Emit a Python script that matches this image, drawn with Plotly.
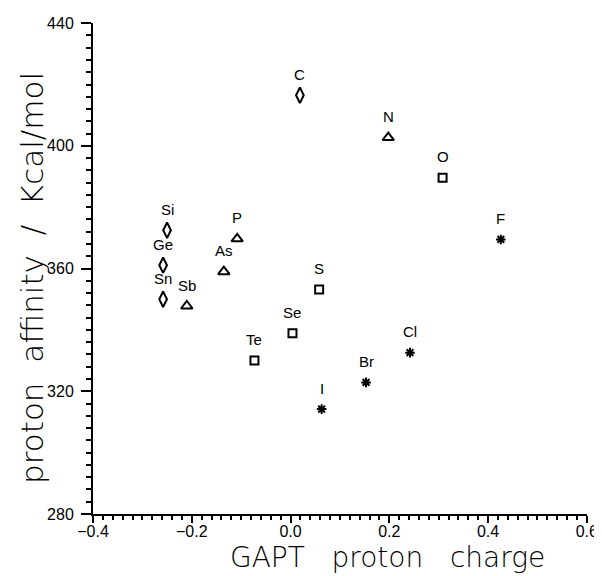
import plotly.graph_objects as go

# Data
elements = ["C", "Si", "Ge", "Sn",
            "N", "P", "As", "Sb",
            "O", "S", "Se", "Te",
            "F", "Cl", "Br", "I"]
groups = ["14", "14", "14", "14",
          "15", "15", "15", "15",
          "16", "16", "16", "16",
          "17", "17", "17", "17"]
gapt_charge = [0.019, -0.250, -0.258, -0.258,
               0.198, -0.108, -0.135, -0.210,
               0.308, 0.058, 0.004, -0.073,
               0.426, 0.242, 0.153, 0.063]
proton_affinity = [416.5, 372.5, 361.1, 350.0,
                   402.7, 369.7, 359.0, 347.8,
                   389.6, 353.2, 338.9, 330.0,
                   369.5, 332.6, 322.9, 314.2]
x_ticks = [-0.4, -0.2, 0.0, 0.2, 0.4, 0.6]
y_ticks = [280, 320, 360, 400, 440]

group_style = {
    "14": dict(symbol="diamond-tall-open", size=11),
    "15": dict(symbol="triangle-up-open", size=10),
    "16": dict(symbol="square-open", size=8),
    "17": dict(symbol="asterisk-open", size=8),
}

fig = go.Figure()
for g, st in group_style.items():
    idx = [i for i, gg in enumerate(groups) if gg == g]
    fig.add_trace(go.Scatter(
        x=[gapt_charge[i] for i in idx],
        y=[proton_affinity[i] for i in idx],
        mode="markers",
        marker=dict(symbol=st["symbol"], size=st["size"], color="black",
                    line=dict(color="black", width=2)),
        showlegend=False,
        cliponaxis=False,
    ))

for el, xv, yv in zip(elements, gapt_charge, proton_affinity):
    fig.add_annotation(
        x=xv, y=yv, text=el, showarrow=False, yshift=21,
        xanchor="center", yanchor="middle",
        font=dict(family="Liberation Sans", size=15, color="black"),
    )

axis_common = dict(
    showline=True, linecolor="black", linewidth=2,
    showgrid=False, zeroline=False, automargin=False,
    ticks="outside", tickcolor="black", tickwidth=2,
    ticklabeloverflow="allow",
    tickfont=dict(family="Liberation Sans", size=16, color="black"),
)

fig.update_xaxes(
    range=[-0.4, 0.6005], tickvals=x_ticks, tickformat=".1f", ticklen=7,
    ticklabelstandoff=-5,
    minor=dict(ticks="outside", tick0=-0.4, dtick=0.02, ticklen=4,
               tickcolor="black", tickwidth=1.5),
    **axis_common,
)
fig.update_yaxes(
    range=[280, 440.05], tickvals=y_ticks, ticklen=10, ticklabelstandoff=4,
    minor=dict(ticks="outside", dtick=4, ticklen=5, tickcolor="black", tickwidth=1.5),
    **axis_common,
)

fig.add_annotation(
    text="GAPT\u00a0\u00a0 proton\u00a0\u00a0 charge", xref="paper", yref="paper",
    x=0.597, y=-0.088, xanchor="center", yanchor="middle", showarrow=False,
    font=dict(family="DejaVu Sans", size=28, color="black", weight=300),
)
fig.add_annotation(
    text="proton\u00a0 affinity\u00a0 /\u00a0 Kcal/mol", xref="paper", yref="paper",
    x=-0.1235, y=0.4807, xanchor="center", yanchor="middle", showarrow=False,
    textangle=-90,
    font=dict(family="DejaVu Sans", size=31, color="black", weight=300),
)

# the page body adds an 8px offset, so the figure is 8px smaller on each side
fig.update_layout(
    width=594, height=568,
    margin=dict(l=85, r=15, t=15, b=62, autoexpand=False),
    plot_bgcolor="white", paper_bgcolor="white",
)

fig.write_html("out.html")
